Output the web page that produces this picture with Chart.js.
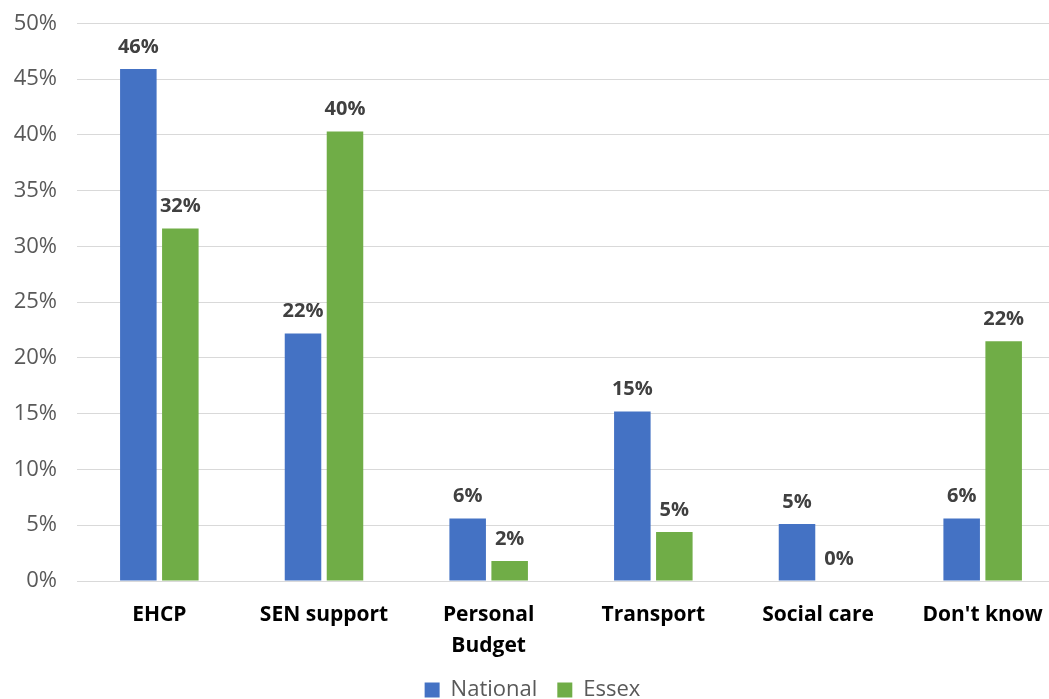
<!DOCTYPE html>
<html><head><meta charset="utf-8">
<script src="https://cdn.jsdelivr.net/npm/chart.js@4.4.1/dist/chart.umd.min.js"></script>
<style>html,body{margin:0;padding:0;overflow:hidden;background:#fff}#wrap{width:1065px;height:711px;position:relative}</style>
</head><body><div id="wrap"><canvas id="c"></canvas></div>
<script>
const categories = ['EHCP', 'SEN support', ['Personal', 'Budget'], 'Transport', 'Social care', "Don't know"];
const nationalValues = [45.9, 22.2, 5.6, 15.2, 5.1, 5.6];
const essexValues = [31.6, 40.3, 1.8, 4.4, 0, 21.5];
const nationalLabels = ['46%', '22%', '6%', '15%', '5%', '6%'];
const essexLabels = ['32%', '40%', '2%', '5%', '0%', '22%'];
const FONT = "'Open Sans', 'Noto Sans', sans-serif";

const labelPlugin = {
  id: 'barLabels',
  afterDatasetsDraw(chart) {
    const ctx = chart.ctx;
    ctx.save();
    ctx.font = 'bold 20px ' + FONT;
    ctx.fillStyle = '#404040';
    ctx.textAlign = 'center';
    ctx.textBaseline = 'middle';
    const lbls = [nationalLabels, essexLabels];
    chart.data.datasets.forEach((ds, di) => {
      chart.getDatasetMeta(di).data.forEach((bar, i) => {
        ctx.fillText(lbls[di][i], bar.x, bar.y - 22);
      });
    });
    ctx.restore();
  }
};

new Chart(document.getElementById('c'), {
  type: 'bar',
  data: {
    labels: categories,
    datasets: [
      { label: 'National', data: nationalValues, backgroundColor: '#4472c4' },
      { label: 'Essex', data: essexValues, backgroundColor: '#70ad47' }
    ]
  },
  options: {
    responsive: true,
    maintainAspectRatio: false,
    animation: false,
    layout: { padding: { top: 0, left: 0, right: 0, bottom: 0 } },
    datasets: { bar: { categoryPercentage: 0.51, barPercentage: 0.87 } },
    scales: {
      y: {
        min: 0, max: 50,
        ticks: { stepSize: 5, callback: v => v + '%', color: '#595959', font: { family: FONT, size: 22, lineHeight: 0.3 }, padding: 20 },
        grid: { color: '#d9d9d9', lineWidth: 1, drawTicks: false },
        border: { display: false },
        afterFit(s) { s.width = 77; }
      },
      x: {
        ticks: { color: '#000', font: { family: FONT, size: 21, weight: 'bold', lineHeight: 1.45 }, padding: 11, maxRotation: 0, autoSkip: false },
        grid: { display: false },
        border: { display: true, color: '#d9d9d9' },
        afterFit(s) { s.height = 78; }
      }
    },
    plugins: {
      legend: {
        position: 'bottom',
        labels: { color: '#595959', font: { family: FONT, size: 22 }, boxWidth: 15, boxHeight: 15, padding: 20 }
      },
      tooltip: { enabled: false }
    }
  },
  plugins: [labelPlugin]
});
</script></body></html>
